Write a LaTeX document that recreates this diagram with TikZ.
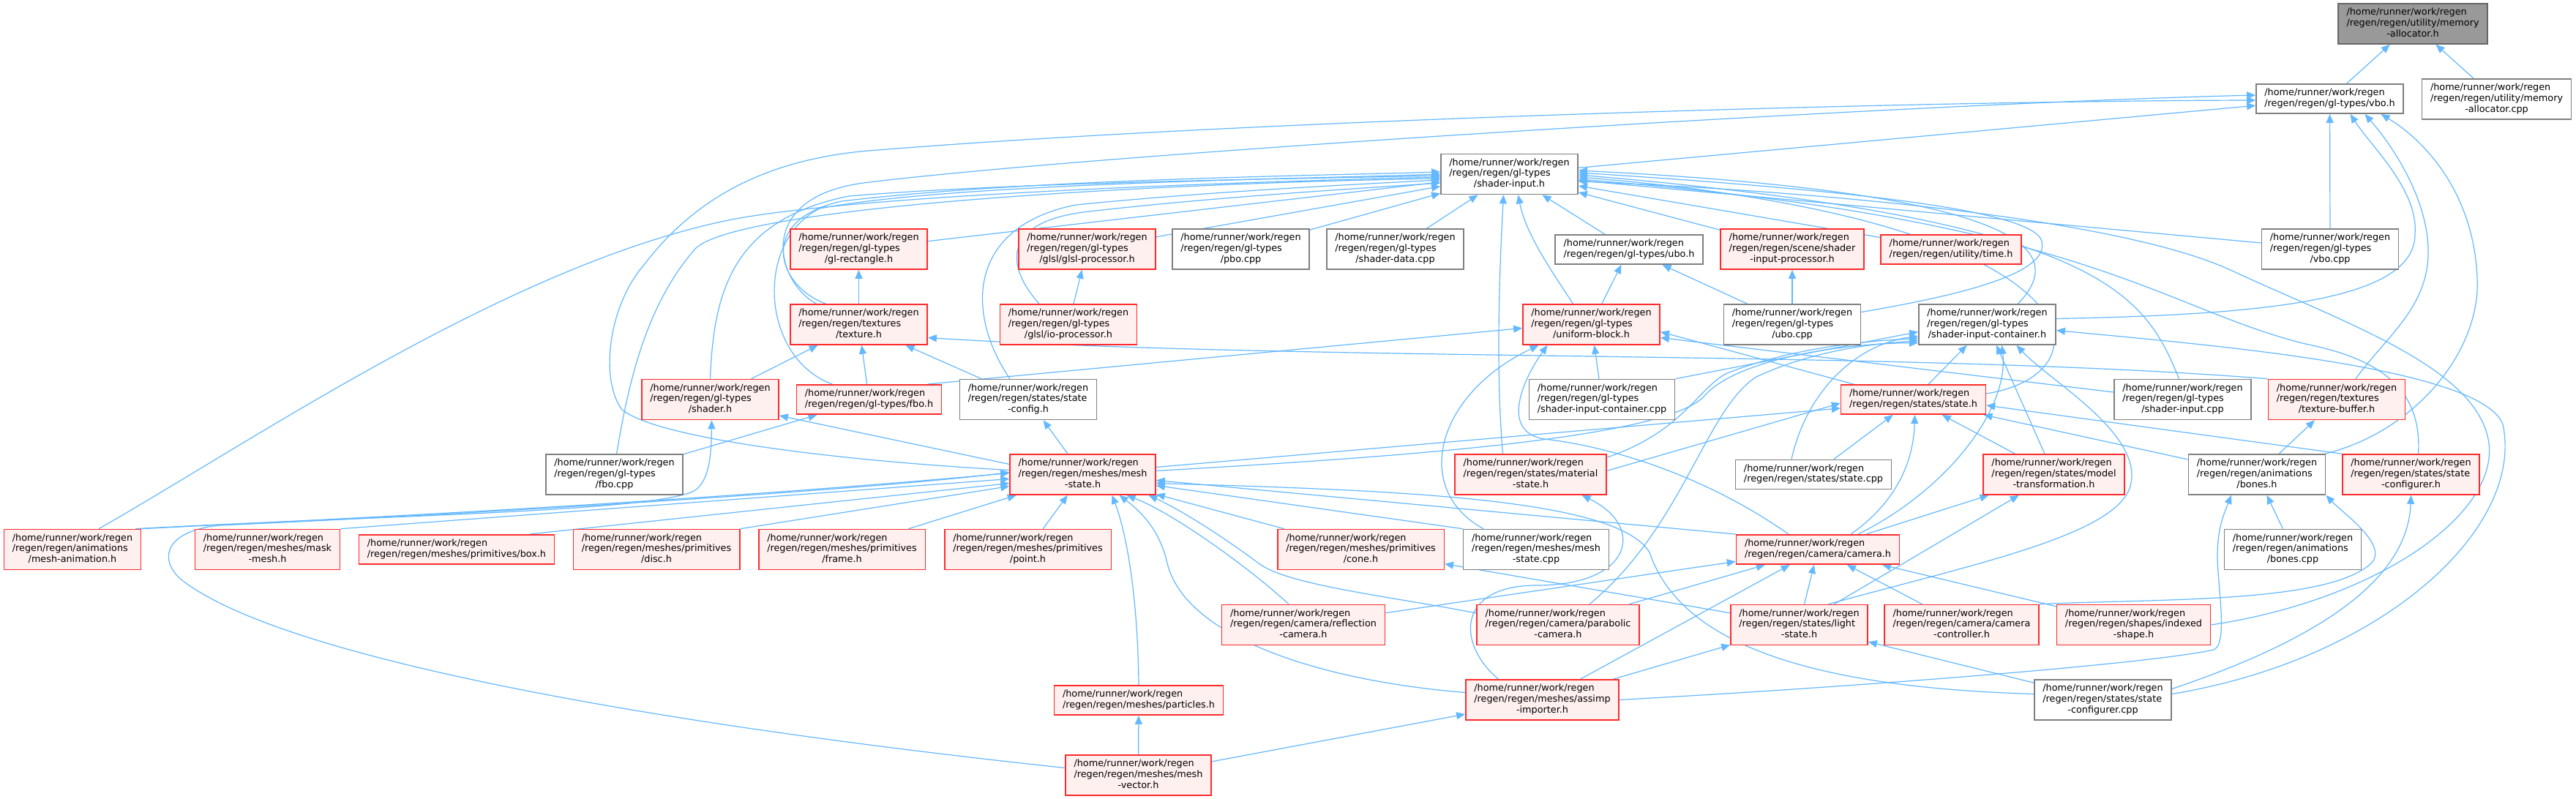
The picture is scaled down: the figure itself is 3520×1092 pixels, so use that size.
\documentclass[tikz,border=0pt]{standalone}
\usepackage{fontspec}
\setmainfont{DejaVu Sans}
\usetikzlibrary{arrows.meta}
\definecolor{edgeblue}{HTML}{63B8FF}
\definecolor{nodered}{HTML}{FF2A2A}
\definecolor{nodepink}{HTML}{FFF0F0}
\definecolor{nodegray}{HTML}{7F7F7F}
\definecolor{rootfill}{HTML}{999999}
\definecolor{rootline}{HTML}{666666}
\pgfdeclarelayer{back}
\pgfdeclarelayer{bg}
\pgfsetlayers{back,bg,main}
\newcommand\nlA[3]{\begin{tabular}{@{}l@{}}#1\\#2\\\multicolumn{1}{@{}c@{}}{#3}\end{tabular}}
\newcommand\nlB[2]{\begin{tabular}{@{}l@{}}#1\\\multicolumn{1}{@{}c@{}}{#2}\end{tabular}}
\newcommand\hrw{/home/runner/work/regen}
\begin{document}
\begin{tikzpicture}[x=1pt,y=-1pt,
 nbox/.style={draw,line width=1.5pt,inner xsep=11.5pt,inner ysep=5.5pt,font=\fontsize{12.8}{14.7}\selectfont},
 rn/.style={nbox,draw=nodered,fill=nodepink},
 gn/.style={nbox,draw=nodegray,fill=white},
 rootn/.style={nbox,draw=rootline,fill=rootfill},
 dep/.style={draw=edgeblue,line width=1.2pt,-{Triangle[length=12pt,width=10pt]}}]
\begin{pgfonlayer}{back}
\fill[white] (0,0) rectangle (3520,1092);
\end{pgfonlayer}
\useasboundingbox (0,0) rectangle (3520,1092);

% ---------- nodes ----------
\node[rootn] (memalloc_h) at (3297,32.5) {\nlA{\hrw}{/regen/regen/utility/memory}{-allocator.h}};
\node[gn] (vbo_h) at (3183.5,135) {\nlB{\hrw}{/regen/regen/gl-types/vbo.h}};
\node[gn] (memalloc_cpp) at (3411.5,135.5) {\nlA{\hrw}{/regen/regen/utility/memory}{-allocator.cpp}};
\node[gn] (shaderinput_h) at (2062.5,238) {\nlA{\hrw}{/regen/regen/gl-types}{/shader-input.h}};
\node[rn] (glrect_h) at (1173.5,340.5) {\nlA{\hrw}{/regen/regen/gl-types}{/gl-rectangle.h}};
\node[rn] (glslproc_h) at (1485.5,340.5) {\nlA{\hrw}{/regen/regen/gl-types}{/glsl/glsl-processor.h}};
\node[gn] (pbo_cpp) at (1695.5,340.5) {\nlA{\hrw}{/regen/regen/gl-types}{/pbo.cpp}};
\node[gn] (shaderdata_cpp) at (1906.5,340.5) {\nlA{\hrw}{/regen/regen/gl-types}{/shader-data.cpp}};
\node[gn] (ubo_h) at (2226,341) {\nlB{\hrw}{/regen/regen/gl-types/ubo.h}};
\node[rn] (sip_h) at (2449,340.5) {\nlA{\hrw}{/regen/regen/scene/shader}{-input-processor.h}};
\node[rn] (time_h) at (2666,341) {\nlB{\hrw}{/regen/regen/utility/time.h}};
\node[gn] (vbo_cpp) at (3184,340.5) {\nlA{\hrw}{/regen/regen/gl-types}{/vbo.cpp}};
\node[rn] (texture_h) at (1173.5,443.5) {\nlA{\hrw}{/regen/regen/textures}{/texture.h}};
\node[rn] (ioproc_h) at (1460,443.5) {\nlA{\hrw}{/regen/regen/gl-types}{/glsl/io-processor.h}};
\node[rn] (uniformblock_h) at (2174.5,443.5) {\nlA{\hrw}{/regen/regen/gl-types}{/uniform-block.h}};
\node[gn] (ubo_cpp) at (2449,443.5) {\nlA{\hrw}{/regen/regen/gl-types}{/ubo.cpp}};
\node[gn] (sic_h) at (2715.5,443.5) {\nlA{\hrw}{/regen/regen/gl-types}{/shader-input-container.h}};
\node[rn] (shader_h) at (970.5,546) {\nlA{\hrw}{/regen/regen/gl-types}{/shader.h}};
\node[rn] (fbo_h) at (1187.5,546) {\nlB{\hrw}{/regen/regen/gl-types/fbo.h}};
\node[gn] (stateconfig_h) at (1405,546) {\nlA{\hrw}{/regen/regen/states/state}{-config.h}};
\node[gn] (siccpp) at (2189,546) {\nlA{\hrw}{/regen/regen/gl-types}{/shader-input-container.cpp}};
\node[rn] (state_h) at (2614.5,546) {\nlB{\hrw}{/regen/regen/states/state.h}};
\node[gn] (shaderinput_cpp) at (2982.5,546) {\nlA{\hrw}{/regen/regen/gl-types}{/shader-input.cpp}};
\node[rn] (texbuf_h) at (3193,546) {\nlA{\hrw}{/regen/regen/textures}{/texture-buffer.h}};
\node[gn] (fbo_cpp) at (839.5,648.5) {\nlA{\hrw}{/regen/regen/gl-types}{/fbo.cpp}};
\node[rn] (meshstate_h) at (1479.5,648.5) {\nlA{\hrw}{/regen/regen/meshes/mesh}{-state.h}};
\node[rn] (material_h) at (2091.5,648.5) {\nlA{\hrw}{/regen/regen/states/material}{-state.h}};
\node[gn] (state_cpp) at (2478,648.5) {\nlB{\hrw}{/regen/regen/states/state.cpp}};
\node[rn] (modeltrans_h) at (2806.5,648.5) {\nlA{\hrw}{/regen/regen/states/model}{-transformation.h}};
\node[gn] (bones_h) at (3084,648.5) {\nlA{\hrw}{/regen/regen/animations}{/bones.h}};
\node[rn] (stateconfigurer_h) at (3294.5,648.5) {\nlA{\hrw}{/regen/regen/states/state}{-configurer.h}};
\node[rn] (meshanim_h) at (99,751) {\nlA{\hrw}{/regen/regen/animations}{/mesh-animation.h}};
\node[rn] (maskmesh_h) at (365.5,751) {\nlA{\hrw}{/regen/regen/meshes/mask}{-mesh.h}};
\node[rn] (box_h) at (624,751) {\nlB{\hrw}{/regen/regen/meshes/primitives/box.h}};
\node[rn] (disc_h) at (897,751) {\nlA{\hrw}{/regen/regen/meshes/primitives}{/disc.h}};
\node[rn] (frame_h) at (1150.5,751) {\nlA{\hrw}{/regen/regen/meshes/primitives}{/frame.h}};
\node[rn] (point_h) at (1404.5,751) {\nlA{\hrw}{/regen/regen/meshes/primitives}{/point.h}};
\node[rn] (cone_h) at (1859.5,751) {\nlA{\hrw}{/regen/regen/meshes/primitives}{/cone.h}};
\node[gn] (meshstate_cpp) at (2099,751) {\nlA{\hrw}{/regen/regen/meshes/mesh}{-state.cpp}};
\node[rn] (camera_h) at (2484,751) {\nlB{\hrw}{/regen/regen/camera/camera.h}};
\node[gn] (bones_cpp) at (3133,751) {\nlA{\hrw}{/regen/regen/animations}{/bones.cpp}};
\node[rn] (reflcam_h) at (1781,854) {\nlA{\hrw}{/regen/regen/camera/reflection}{-camera.h}};
\node[rn] (parabolic_h) at (2129,854) {\nlA{\hrw}{/regen/regen/camera/parabolic}{-camera.h}};
\node[rn] (light_h) at (2458.5,854) {\nlA{\hrw}{/regen/regen/states/light}{-state.h}};
\node[rn] (camctrl_h) at (2680.5,854) {\nlA{\hrw}{/regen/regen/camera/camera}{-controller.h}};
\node[rn] (indexed_h) at (2915.5,854) {\nlA{\hrw}{/regen/regen/shapes/indexed}{-shape.h}};
\node[rn] (particles_h) at (1556,957) {\nlB{\hrw}{/regen/regen/meshes/particles.h}};
\node[rn] (assimp_h) at (2107.5,956.5) {\nlA{\hrw}{/regen/regen/meshes/assimp}{-importer.h}};
\node[gn] (stateconfigurer_cpp) at (2873.5,956.5) {\nlA{\hrw}{/regen/regen/states/state}{-configurer.cpp}};
\node[rn] (meshvector_h) at (1555.5,1059.5) {\nlA{\hrw}{/regen/regen/meshes/mesh}{-vector.h}};

% ---------- edges ----------
\begin{pgfonlayer}{bg}
% memory-allocator.h
\draw[dep] (vbo_h) -- (memalloc_h);
\draw[dep] (memalloc_cpp) -- (memalloc_h);
% vbo.h
\draw[dep] (shaderinput_h) -- (vbo_h);
\draw[dep] (vbo_cpp) -- (vbo_h);
\draw[dep] ([yshift=8]sic_h.east) .. controls (3100,430) and (3300,410) .. (3300,320) .. controls (3305,260) and (3240,200) .. ([xshift=28]vbo_h.south);
\draw[dep] ([xshift=26]texbuf_h.north) .. controls (3260,460) and (3320,420) .. (3318,340) .. controls (3316,270) and (3270,200) .. ([xshift=48]vbo_h.south);
\draw[dep] ([xshift=93]bones_h.north) .. controls (3300,590) and (3390,480) .. (3385,380) .. controls (3380,260) and (3310,190) .. ([xshift=70]vbo_h.south);
\draw[dep] ([xshift=-58]texture_h.north) .. controls (1060,385) and (1030,270) .. (1180,250) .. controls (1500,210) and (2600,142) .. ([yshift=5]vbo_h.west);
\draw[dep] ([yshift=6]meshstate_h.west) .. controls (1150,630) and (900,600) .. (850,560) .. controls (820,520) and (830,420) .. (880,362) .. controls (950,270) and (1050,215) .. (1200,205) .. controls (1700,165) and (2600,138) .. ([yshift=-2]vbo_h.west);
% shader-input.h
\draw[dep] (glrect_h) -- (shaderinput_h);
\draw[dep] (glslproc_h) -- (shaderinput_h);
\draw[dep] (pbo_cpp) -- (shaderinput_h);
\draw[dep] (shaderdata_cpp) -- (shaderinput_h);
\draw[dep] (ubo_h) -- (shaderinput_h);
\draw[dep] (sip_h) -- (shaderinput_h);
\draw[dep] (time_h) -- (shaderinput_h);
\draw[dep] (vbo_cpp) -- (shaderinput_h);
\draw[dep] ([xshift=-45]texture_h.north) .. controls (1060,390) and (1035,300) .. (1150,275) .. controls (1400,245) and (1800,240) .. ([yshift=3]shaderinput_h.west);
\draw[dep] ([xshift=-40]ioproc_h.north) .. controls (1375,365) and (1368,305) .. (1480,290) .. controls (1650,270) and (1850,258) .. ([yshift=-12]shaderinput_h.west);
\draw[dep] ([xshift=-25]stateconfig_h.north) .. controls (1320,430) and (1320,310) .. (1470,280) .. controls (1650,262) and (1850,252) .. ([yshift=-8]shaderinput_h.west);
\draw[dep] (shader_h.north) .. controls (975,400) and (1000,300) .. (1160,268) .. controls (1400,248) and (1800,244) .. ([yshift=-2]shaderinput_h.west);
\draw[dep] ([xshift=-50]fbo_h.north) .. controls (1040,490) and (1030,330) .. (1120,285) .. controls (1300,250) and (1800,244) .. (shaderinput_h.west);
\draw[dep] ([xshift=36]meshanim_h.north) .. controls (350,600) and (700,360) .. (1000,300) .. controls (1200,262) and (1800,246) .. ([yshift=-4]shaderinput_h.west);
\draw[dep] ([xshift=3]fbo_cpp.north) .. controls (858,530) and (880,420) .. (950,340) .. controls (1010,280) and (1600,250) .. ([yshift=-6]shaderinput_h.west);
\draw[dep] ([xshift=-38]material_h.north) .. controls (2043,500) and (2050,350) .. ([xshift=-8]shaderinput_h.south);
\draw[dep] ([xshift=-25]uniformblock_h.north) .. controls (2120,370) and (2085,320) .. ([xshift=12]shaderinput_h.south);
\draw[dep] ([xshift=42]sic_h.north) .. controls (2820,350) and (2800,265) .. ([yshift=5]shaderinput_h.east);
\draw[dep] ([yshift=17]ubo_cpp.east) .. controls (2700,400) and (2800,370) .. (2790,330) .. controls (2780,285) and (2500,258) .. ([yshift=2]shaderinput_h.east);
\draw[dep] ([xshift=-5]shaderinput_cpp.north) .. controls (2930,400) and (2870,300) .. ([yshift=-1]shaderinput_h.east);
\draw[dep] ([yshift=8]state_h.east) .. controls (2890,510) and (2870,300) .. ([yshift=-4]shaderinput_h.east);
\draw[dep] ([xshift=10]stateconfigurer_h.north) .. controls (3310,530) and (3250,490) .. (3150,470) .. controls (2950,420) and (2850,300) .. ([yshift=-7]shaderinput_h.east);
\draw[dep] (indexed_h.east) .. controls (3250,820) and (3420,700) .. (3400,600) .. controls (3380,500) and (3200,440) .. (3050,370) .. controls (2900,300) and (2500,262) .. ([yshift=-10]shaderinput_h.east);
% texture.h and others on row 2
\draw[dep] (shader_h) -- (texture_h);
\draw[dep] (fbo_h) -- (texture_h);
\draw[dep] (stateconfig_h) -- (texture_h);
\draw[dep] (texbuf_h.north west) .. controls (2600,478) and (1800,495) .. ([yshift=-18]texture_h.east);
\draw[dep] (texture_h) -- (glrect_h);
\draw[dep] (ioproc_h) -- (glslproc_h);
\draw[dep] (uniformblock_h) -- (ubo_h);
\draw[dep] (ubo_cpp) -- (ubo_h);
\draw[dep] (ubo_cpp) -- (sip_h);
% uniform-block.h
\draw[dep] ([xshift=-20]fbo_h.north east) -- ([yshift=-5]uniformblock_h.west);
\draw[dep] (siccpp) -- (uniformblock_h);
\draw[dep] ([xshift=-72]meshstate_cpp.north) .. controls (1930,670) and (1960,540) .. ([xshift=-72]uniformblock_h.south);
\draw[dep] ([xshift=-40]camera_h.north) .. controls (2330,650) and (2200,610) .. (2110,600) .. controls (2050,590) and (2080,520) .. ([xshift=-60]uniformblock_h.south);
\draw[dep] ([xshift=18]state_h.north west) -- ([yshift=-10]uniformblock_h.east);
\draw[dep] ([yshift=10]shaderinput_cpp.west) -- ([yshift=-18]uniformblock_h.east);
% shader-input-container.h
\draw[dep] (siccpp.north east) -- ([yshift=-10]sic_h.west);
\draw[dep] (state_h) -- (sic_h);
\draw[dep] ([xshift=-30]state_cpp.north) .. controls (2470,530) and (2540,470) .. ([yshift=-16]sic_h.west);
\draw[dep] ([yshift=-5]material_h.north east) .. controls (2300,590) and (2320,530) .. (2360,510) .. controls (2450,475) and (2550,466) .. ([yshift=-19]sic_h.west);
\draw[dep] (modeltrans_h) -- (sic_h);
\draw[dep] ([xshift=55]camera_h.north) .. controls (2660,670) and (2745,560) .. ([xshift=20]sic_h.south);
\draw[dep] ([xshift=43]parabolic_h.north) .. controls (2300,720) and (2330,560) .. (2400,515) .. controls (2480,478) and (2560,470) .. ([yshift=-22]sic_h.west);
\draw[dep] ([xshift=40]light_h.north) .. controls (2700,770) and (2900,730) .. (2912,660) .. controls (2925,590) and (2800,520) .. ([xshift=40]sic_h.south);
\draw[dep] ([yshift=8]stateconfigurer_cpp.east) .. controls (3260,900) and (3450,720) .. (3420,580) .. controls (3390,500) and (3000,470) .. ([yshift=-8]sic_h.east);
\draw[dep] ([yshift=5]meshstate_h.east) .. controls (1900,625) and (2280,600) .. (2330,540) .. controls (2370,495) and (2500,470) .. ([yshift=-25]sic_h.west);
% state.h
\draw[dep] ([yshift=5]material_h.east) -- ([yshift=-5]state_h.west);
\draw[dep] ([yshift=10]meshstate_h.east) -- ([yshift=-12]state_h.west);
\draw[dep] (state_cpp) -- (state_h);
\draw[dep] ([xshift=45]camera_h.north) .. controls (2600,680) and (2615,620) .. ([xshift=2]state_h.south);
\draw[dep] (modeltrans_h) -- (state_h);
\draw[dep] (bones_h) -- (state_h);
\draw[dep] (stateconfigurer_h.north west) -- ([yshift=-8]state_h.east);
% model-transformation.h, bones.h, state-configurer.h
\draw[dep] (camera_h) -- (modeltrans_h);
\draw[dep] (light_h) -- (modeltrans_h);
\draw[dep] (bones_cpp) -- (bones_h);
\draw[dep] (assimp_h.east) .. controls (2600,935) and (2950,905) .. (3025,888) .. controls (3045,880) and (3030,800) .. (3030,760) .. controls (3030,720) and (3040,700) .. ([xshift=-35]bones_h.south);
\draw[dep] (camctrl_h.north east) .. controls (2950,818) and (3180,825) .. (3240,770) .. controls (3265,745) and (3200,700) .. (bones_h.south east);
\draw[dep] (bones_h) -- (texbuf_h);
\draw[dep] ([yshift=15]stateconfigurer_cpp.east) .. controls (3150,880) and (3290,800) .. (stateconfigurer_h.south);
% camera.h
\draw[dep] (reflcam_h) -- (camera_h);
\draw[dep] (parabolic_h) -- (camera_h);
\draw[dep] (assimp_h) -- (camera_h);
\draw[dep] (light_h) -- (camera_h);
\draw[dep] (camctrl_h) -- (camera_h);
\draw[dep] (indexed_h) -- (camera_h);
% light-state.h
\draw[dep] (assimp_h) -- (light_h);
\draw[dep] (stateconfigurer_cpp) -- (light_h);
\draw[dep] (light_h) -- (cone_h);
% mesh-state.h
\draw[dep] (meshanim_h.north east) .. controls (400,712) and (900,690) .. ([yshift=2]meshstate_h.west);
\draw[dep] (maskmesh_h.north east) -- ([yshift=-6]meshstate_h.west);
\draw[dep] ([xshift=-35]box_h.north east) -- ([yshift=-12]meshstate_h.west);
\draw[dep] (disc_h.north east) -- ([yshift=-16]meshstate_h.west);
\draw[dep] (frame_h) -- (meshstate_h);
\draw[dep] (point_h) -- (meshstate_h);
\draw[dep] (cone_h) -- (meshstate_h);
\draw[dep] (meshstate_cpp.north west) -- ([yshift=-15]meshstate_h.east);
\draw[dep] (camera_h.north west) -- ([yshift=-8]meshstate_h.east);
\draw[dep] ([xshift=-20]reflcam_h.north) .. controls (1700,770) and (1600,700) .. ([xshift=60]meshstate_h.south);
\draw[dep] ([yshift=16]parabolic_h.west) .. controls (1900,815) and (1760,800) .. (1720,770) .. controls (1680,740) and (1620,700) .. ([xshift=90]meshstate_h.south);
\draw[dep] (particles_h.north) .. controls (1555,820) and (1540,730) .. ([xshift=40]meshstate_h.south);
\draw[dep] ([yshift=10]assimp_h.west) .. controls (1800,930) and (1620,870) .. (1595,770) .. controls (1585,725) and (1560,700) .. ([xshift=50]meshstate_h.south);
\draw[dep] ([yshift=10]meshvector_h.west) .. controls (900,990) and (380,900) .. (245,790) .. controls (215,760) and (230,725) .. (300,718) .. controls (700,700) and (1200,668) .. ([yshift=3]meshstate_h.west);
\draw[dep] ([yshift=8]stateconfigurer_cpp.west) .. controls (2500,940) and (2300,890) .. (2254,755) .. controls (2210,680) and (1900,670) .. ([yshift=-12]meshstate_h.east);
% mesh-state.h outgoing
\draw[dep] (meshstate_h) -- (stateconfig_h);
\draw[dep] ([yshift=14]meshstate_h.west) -- ([yshift=-22]shader_h.east);
\draw[dep] ([xshift=-8]meshanim_h.north east) .. controls (500,705) and (900,700) .. (950,670) .. controls (970,655) and (972,620) .. ([xshift=2]shader_h.south);
\draw[dep] (fbo_cpp) -- (fbo_h);
% bottom rows
\draw[dep] (meshvector_h) -- (particles_h);
\draw[dep] (meshvector_h) -- (assimp_h);
\draw[dep] ([xshift=-60]assimp_h.north) .. controls (1990,880) and (1990,800) .. (2100,800) .. controls (2230,800) and (2250,720) .. ([xshift=70]material_h.south);
\end{pgfonlayer}
\end{tikzpicture}
\end{document}
